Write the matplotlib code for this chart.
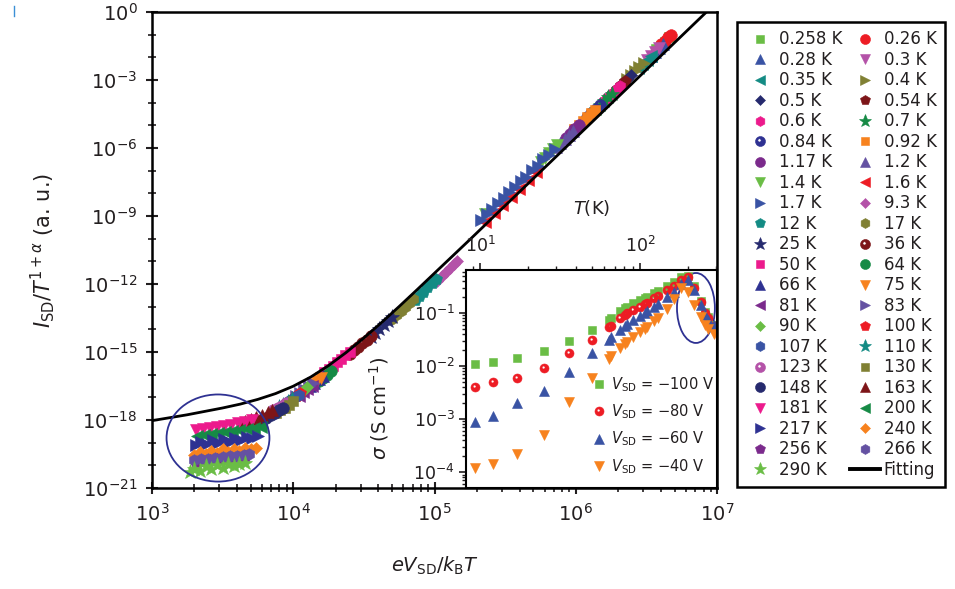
import numpy as np
import matplotlib
matplotlib.use('Agg')
import matplotlib.pyplot as plt
from matplotlib.lines import Line2D
from matplotlib.patches import Ellipse
from matplotlib.path import Path
from matplotlib.ticker import FixedLocator, LogFormatterSciNotation, NullFormatter, LogLocator

# ---- main panel data: log10(eV/kT) and log10(I/T^(1+a)) per temperature ----
temp_labels = ['0.258 K', '0.26 K', '0.28 K', '0.3 K', '0.35 K', '0.4 K', '0.5 K', '0.54 K',
               '0.6 K', '0.7 K', '0.84 K', '0.92 K', '1.17 K', '1.2 K', '1.4 K', '1.6 K',
               '1.7 K', '9.3 K', '12 K', '17 K', '25 K', '36 K', '50 K', '64 K', '66 K',
               '75 K', '81 K', '83 K', '90 K', '100 K', '107 K', '110 K', '123 K', '130 K',
               '148 K', '163 K', '181 K', '200 K', '217 K', '240 K', '256 K', '266 K', '290 K']

main_logx = [
    [6.57, 6.60, 6.63, 6.66],                      # 0.258
    [6.60, 6.63, 6.655, 6.675],                    # 0.26
    [6.53, 6.56, 6.59, 6.62],                      # 0.28
    [6.50, 6.53, 6.56, 6.59],                      # 0.3
    [6.44, 6.47, 6.50, 6.53],                      # 0.35
    [6.36, 6.39, 6.42, 6.45, 6.48],                # 0.4
    [6.30, 6.33, 6.36, 6.39],                      # 0.5
    [6.26, 6.29, 6.32, 6.35],                      # 0.54
    [6.20, 6.23, 6.26, 6.29, 6.31],                # 0.6
    [6.14, 6.17, 6.20, 6.23, 6.255],               # 0.7
    [6.08, 6.11, 6.14, 6.17],                      # 0.84
    [5.99, 6.02, 6.05, 6.08, 6.11, 6.135],         # 0.92
    [5.93, 5.96, 5.99, 6.02],                      # 1.17
    [5.86, 5.89, 5.92, 5.95, 5.98],                # 1.2
    [5.36, 5.75, 5.78, 5.81, 5.84, 5.87],          # 1.4
    [5.36, 5.42, 5.48, 5.54, 5.60, 5.66, 5.72],    # 1.6
    [5.33, 5.37, 5.41, 5.45, 5.49, 5.53, 5.57, 5.61, 5.65, 5.69, 5.73, 5.77, 5.81, 5.85],  # 1.7
    [5.02, 5.05, 5.08, 5.11, 5.14, 5.16],          # 9.3
    [4.86, 4.89, 4.92, 4.95, 4.98, 5.01],          # 12
    [4.70, 4.73, 4.76, 4.79, 4.82, 4.85],          # 17
    [4.55, 4.58, 4.61, 4.64, 4.67, 4.70],          # 25
    [4.40, 4.43, 4.46, 4.49, 4.52, 4.55],          # 36
    [4.22, 4.25, 4.28, 4.31, 4.34, 4.37, 4.40],    # 50
    [4.18, 4.21, 4.24, 4.27],                      # 64
    [4.12, 4.15, 4.18, 4.21],                      # 66
    [4.08, 4.11, 4.14, 4.17, 4.20],                # 75
    [4.04, 4.07, 4.10, 4.13],                      # 81
    [4.02, 4.05, 4.08, 4.11, 4.14],                # 83
    [3.98, 4.01, 4.04, 4.07, 4.10],                # 90
    [3.96, 3.99, 4.02, 4.05],                      # 100
    [3.92, 3.95, 3.98, 4.01, 4.04],                # 107
    [3.90, 3.93, 3.96, 3.99],                      # 110
    [3.86, 3.89, 3.92, 3.95],                      # 123
    [3.88, 3.91, 3.94, 3.97, 4.00],                # 130
    [3.78, 3.81, 3.84, 3.87, 3.90, 3.93],          # 148
    [3.66, 3.70, 3.74, 3.78, 3.82, 3.85],          # 163
    [3.31, 3.36, 3.41, 3.46, 3.51, 3.56, 3.61, 3.66, 3.71],              # 181
    [3.32, 3.37, 3.42, 3.47, 3.52, 3.57, 3.62, 3.67, 3.72, 3.77],        # 200
    [3.31, 3.35, 3.39, 3.43, 3.47, 3.51, 3.55, 3.59, 3.63, 3.67, 3.71, 3.75],  # 217
    [3.30, 3.34, 3.38, 3.42, 3.46, 3.50, 3.54, 3.58, 3.62, 3.66, 3.70, 3.74],  # 240
    [3.31, 3.36, 3.41, 3.46, 3.51, 3.56, 3.61, 3.66],                    # 256
    [3.30, 3.35, 3.40, 3.45, 3.50, 3.55, 3.60, 3.65, 3.69],              # 266
    [3.27, 3.30, 3.34, 3.38, 3.42, 3.46, 3.50, 3.54, 3.58, 3.62, 3.66],  # 290
]

main_logy = [
    [-1.65, -1.48, -1.30, -1.12],
    [-1.42, -1.26, -1.12, -1.02],
    [-1.95, -1.76, -1.58, -1.40],
    [-2.12, -1.93, -1.75, -1.57],
    [-2.48, -2.30, -2.12, -1.94],
    [-2.95, -2.78, -2.60, -2.42, -2.24],
    [-3.32, -3.14, -2.96, -2.78],
    [-3.56, -3.38, -3.20, -3.02],
    [-3.92, -3.74, -3.56, -3.38, -3.26],
    [-4.28, -4.10, -3.92, -3.74, -3.60],
    [-4.64, -4.46, -4.28, -4.10],
    [-5.18, -5.00, -4.82, -4.64, -4.46, -4.31],
    [-5.55, -5.36, -5.18, -5.00],
    [-5.97, -5.79, -5.61, -5.43, -5.25],
    [-8.90, -6.60, -6.42, -6.24, -6.06, -5.88],
    [-9.25, -8.88, -8.52, -8.15, -7.80, -7.42, -7.06],
    [-9.18, -8.90, -8.70, -8.42, -8.22, -7.94, -7.74, -7.46, -7.26, -6.98, -6.78, -6.50, -6.30, -6.02],
    [-11.85, -11.65, -11.47, -11.29, -11.11, -10.97],
    [-12.70, -12.51, -12.33, -12.15, -11.97, -11.80],
    [-13.55, -13.37, -13.20, -13.03, -12.85, -12.67],
    [-14.35, -14.17, -14.00, -13.83, -13.65, -13.47],
    [-15.10, -14.93, -14.77, -14.60, -14.45, -14.30],
    [-15.90, -15.75, -15.60, -15.45, -15.30, -15.15, -15.00],
    [-16.30, -16.15, -16.00, -15.85],
    [-16.50, -16.35, -16.20, -16.05],
    [-16.72, -16.58, -16.43, -16.28, -16.13],
    [-16.92, -16.78, -16.63, -16.48],
    [-16.95, -16.80, -16.65, -16.50, -16.35],
    [-17.12, -16.98, -16.84, -16.70, -16.55],
    [-17.22, -17.08, -16.95, -16.80],
    [-17.38, -17.25, -17.12, -17.00, -16.88],
    [-17.42, -17.32, -17.20, -17.08],
    [-17.58, -17.48, -17.38, -17.26],
    [-17.70, -17.58, -17.45, -17.32, -17.18],
    [-18.00, -17.90, -17.80, -17.70, -17.58, -17.46],
    [-18.05, -17.96, -17.86, -17.76, -17.66, -17.56],
    [-18.45, -18.40, -18.35, -18.30, -18.25, -18.20, -18.14, -18.08, -18.00],
    [-18.70, -18.66, -18.62, -18.58, -18.54, -18.50, -18.45, -18.40, -18.35, -18.30],
    [-19.10, -18.95, -19.05, -18.90, -19.00, -18.85, -18.95, -18.80, -18.90, -18.75, -18.80, -18.70],
    [-19.55, -19.40, -19.50, -19.35, -19.45, -19.30, -19.40, -19.28, -19.35, -19.25, -19.30, -19.22],
    [-19.85, -19.80, -19.76, -19.72, -19.70, -19.68, -19.65, -19.60],
    [-19.75, -19.72, -19.70, -19.66, -19.62, -19.60, -19.58, -19.55, -19.50],
    [-20.30, -20.15, -20.25, -20.05, -20.15, -20.00, -20.10, -19.95, -20.05, -19.95, -19.90],
]

# fitting curve
fit_logx = [3.0, 3.25, 3.5, 3.625, 3.75, 3.875, 4.0, 4.125, 4.25, 4.375, 4.5, 4.625,
            4.75, 4.875, 5.0, 5.25, 5.5, 5.75, 6.0, 6.25, 6.5, 6.75, 7.0]
fit_logy = [-18.03, -17.77, -17.47, -17.30, -17.09, -16.835, -16.51, -16.10, -15.60, -15.02,
            -14.38, -13.70, -12.99, -12.26, -11.52, -10.04, -8.54, -7.04, -5.54, -4.04,
            -2.54, -1.04, 0.46]

# ---- inset: conductivity vs temperature ----
inset_T = [9.3, 12, 17, 25, 36, 50, 64, 66, 75, 81, 83, 90, 100, 107, 110, 123, 130,
           148, 163, 181, 200, 217, 240, 256, 266, 290]
sig_100 = [-1.96, -1.92, -1.84, -1.72, -1.52, -1.32, -1.13, -1.10, -0.96, -0.90, -0.88, -0.82,
           -0.76, -0.72, -0.70, -0.62, -0.58, -0.49, -0.42, -0.33, -0.30, -0.50, -0.78, -0.98,
           -1.08, -1.22]
sig_80 = [-2.39, -2.31, -2.22, -2.04, -1.75, -1.51, -1.27, -1.24, -1.10, -1.03, -1.00, -0.94,
          -0.88, -0.83, -0.81, -0.72, -0.68, -0.57, -0.49, -0.38, -0.33, -0.52, -0.80, -1.00,
          -1.10, -1.25]
sig_60 = [-3.05, -2.94, -2.70, -2.48, -2.11, -1.76, -1.50, -1.46, -1.32, -1.24, -1.21, -1.14,
          -1.06, -1.00, -0.97, -0.88, -0.83, -0.70, -0.60, -0.45, -0.37, -0.56, -0.85, -1.03,
          -1.13, -1.22]
sig_40 = [-3.93, -3.84, -3.65, -3.30, -2.67, -2.23, -1.86, -1.82, -1.66, -1.58, -1.55, -1.46,
          -1.36, -1.30, -1.27, -1.15, -1.09, -0.93, -0.74, -0.52, -0.60, -0.84, -1.08, -1.22,
          -1.31, -1.40]
inset_labels = ['$V_{\\rm SD}$ = \u2212100 V', '$V_{\\rm SD}$ = \u221280 V',
                '$V_{\\rm SD}$ = \u221260 V', '$V_{\\rm SD}$ = \u221240 V']


def dot_circle():
    # filled circle with a small white highlight
    circ = Path.unit_circle()
    n = len(circ.vertices) - 1
    inner = circ.vertices[:n][::-1] * 0.32 + np.array([-0.2, 0.22])
    verts = np.concatenate([circ.vertices, inner, inner[:1]])
    codes = np.concatenate([circ.codes, [Path.MOVETO] + [Path.CURVE4] * (n - 1) + [Path.CLOSEPOLY]])
    return Path(verts, codes)


DOT = dot_circle()
lg, red, blue, orchid, teal = '#6abd45', '#ed1c24', '#3953a4', '#b452a8', '#138b84'
olive, navy, dred, pink, green = '#808033', '#262a6e', '#7d1518', '#ec1a8c', '#168a45'
indigo, orange, purple, violet = '#2e3192', '#f7821e', '#7b2a8c', '#6451a2'

series_colors = [lg, red, blue, orchid, teal, olive, navy, dred, pink, green, indigo, orange, purple, violet,
                 lg, red, blue, orchid, teal, olive, navy, dred, pink, green, indigo, orange, purple, violet,
                 lg, red, blue, teal, orchid, olive, navy, dred, pink, green, indigo, orange, purple, violet,
                 lg]
marker_cycle = ['s', 'o', '^', 'v', '<', '>', 'D', 'p', 'h', '*', DOT]
size_scale = [0.85, 1.0, 1.0, 1.0, 1.0, 1.0, 0.75, 1.05, 1.0, 1.35, 1.0]
BASE_MS = 8.4
LEG_MS = 7.2
TXT = '#231f20'

plt.rcParams['font.family'] = ['DejaVu Sans']
plt.rcParams['text.color'] = TXT
plt.rcParams['axes.labelcolor'] = TXT
plt.rcParams['xtick.color'] = TXT
plt.rcParams['ytick.color'] = TXT

fig = plt.figure(figsize=(9.55, 5.89), dpi=100)
ax = fig.add_axes([0.159, 0.1715, 0.592, 0.808])

handles = []
for i, lab in enumerate(temp_labels):
    m = marker_cycle[i % 11]
    c = series_colors[i]
    ax.plot(10 ** np.array(main_logx[i]), 10 ** np.array(main_logy[i]), ls='none',
            marker=m, ms=BASE_MS * size_scale[i % 11], color=c, mec=c, mew=0.4, zorder=2)
    handles.append(Line2D([], [], ls='none', marker=m, ms=LEG_MS * size_scale[i % 11],
                          color=c, mec=c, mew=0.4))

ax.plot(10 ** np.array(fit_logx), 10 ** np.array(fit_logy), color='black', lw=2.0, zorder=3)
handles.append(Line2D([], [], color='black', lw=2.8))
labels = temp_labels + ['Fitting']

ax.add_patch(Ellipse((0.117, 0.105), 0.182, 0.183, transform=ax.transAxes, fill=False,
                     ec=indigo, lw=1.3, zorder=4))

ax.set_xscale('log')
ax.set_yscale('log')
ax.set_xlim(1e3, 1e7)
ax.set_ylim(1e-21, 1e0)
ax.xaxis.set_major_locator(LogLocator(base=10, numticks=10))
ax.xaxis.set_minor_locator(LogLocator(base=10, subs=np.arange(2, 10), numticks=50))
ax.xaxis.set_minor_formatter(NullFormatter())
ax.yaxis.set_major_locator(FixedLocator([10.0 ** -k for k in range(0, 22, 3)]))
ax.yaxis.set_major_formatter(LogFormatterSciNotation())
ax.yaxis.set_minor_locator(FixedLocator([10.0 ** -k for k in range(0, 22) if k % 3]))
ax.yaxis.set_minor_formatter(NullFormatter())
ax.tick_params(which='major', direction='inout', length=9, width=1.5, labelsize=14, pad=6)
ax.tick_params(which='minor', direction='inout', length=6, width=1.2)
for s in ax.spines.values():
    s.set_linewidth(1.8)
ax.set_xlabel('$eV_{\\rm SD}/k_{\\rm B}T$', fontsize=14, labelpad=22)
ax.set_ylabel('$I_{\\rm SD}/T^{1+\\alpha}$ (a. u.)', fontsize=15, labelpad=18)

# legend filled row by row
order = list(range(0, len(labels), 2)) + list(range(1, len(labels), 2))
leg = fig.legend([handles[k] for k in order], [labels[k] for k in order], loc='upper left',
                 bbox_to_anchor=(0.7717, 0.9626), borderaxespad=0, ncol=2, fontsize=12,
                 frameon=True, fancybox=False, framealpha=1, edgecolor='black',
                 handlelength=1.75, handletextpad=0.25, columnspacing=0.5,
                 labelspacing=0.15, borderpad=0.5)
leg.get_frame().set_linewidth(1.8)

# small blue mark at the top-left corner of the original panel
fig.add_artist(Line2D([0.0145, 0.0145], [0.972, 0.990], color='#3b8fd6', lw=1.0))

# ---- inset ----
ai = fig.add_axes([0.488, 0.1715, 0.2628, 0.370])
ai.set_facecolor('white')
inset_sets = [(sig_100, 's', lg, 6.0), (sig_80, DOT, red, 6.5),
              (sig_60, '^', blue, 6.5), (sig_40, 'v', orange, 6.5)]
ih = []
for (sig, m, c, ms), lab in zip(inset_sets, inset_labels):
    h, = ai.plot(inset_T, 10 ** np.array(sig), ls='none', marker=m, ms=ms, color=c, mec=c,
                 mew=0.4, label=lab)
    ih.append(h)
ai.add_patch(Ellipse((0.916, 0.826), 0.151, 0.321, transform=ai.transAxes, fill=False,
                     ec=indigo, lw=1.3, clip_on=False))
ai.set_xscale('log')
ai.set_yscale('log')
ai.set_xlim(8.18, 303)
ai.set_ylim(10 ** -4.3, 10 ** -0.19)
ai.xaxis.tick_top()
ai.xaxis.set_label_position('top')
ai.tick_params(axis='x', which='both', direction='out', top=True, bottom=False,
               labeltop=True, labelbottom=False)
ai.tick_params(axis='y', which='both', direction='out', left=True, right=False)
ai.tick_params(which='major', length=5, width=1.2, labelsize=12.5)
ai.tick_params(axis='x', which='major', pad=5)
ai.tick_params(axis='y', which='major', pad=3)
ai.tick_params(which='minor', length=3, width=1.0)
ai.yaxis.set_major_locator(LogLocator(base=10, numticks=10))
ai.yaxis.set_minor_locator(LogLocator(base=10, subs=np.arange(2, 10), numticks=50))
ai.yaxis.set_minor_formatter(NullFormatter())
ai.xaxis.set_minor_formatter(NullFormatter())
for s in ai.spines.values():
    s.set_linewidth(1.5)
ai.set_xlabel('$T$(K)', fontsize=13, labelpad=16)
ai.set_ylabel('$\\sigma$ (S cm$^{-1}$)', fontsize=14)
ai.yaxis.set_label_coords(-0.30, 0.367)
ai.legend(handles=ih, loc='lower right', bbox_to_anchor=(1.0, 0.042), borderaxespad=0,
          frameon=False, fontsize=10.5, handlelength=0.8, handletextpad=0.4,
          labelspacing=0.6, borderpad=0.2)

fig.savefig('out.png', dpi=100)
